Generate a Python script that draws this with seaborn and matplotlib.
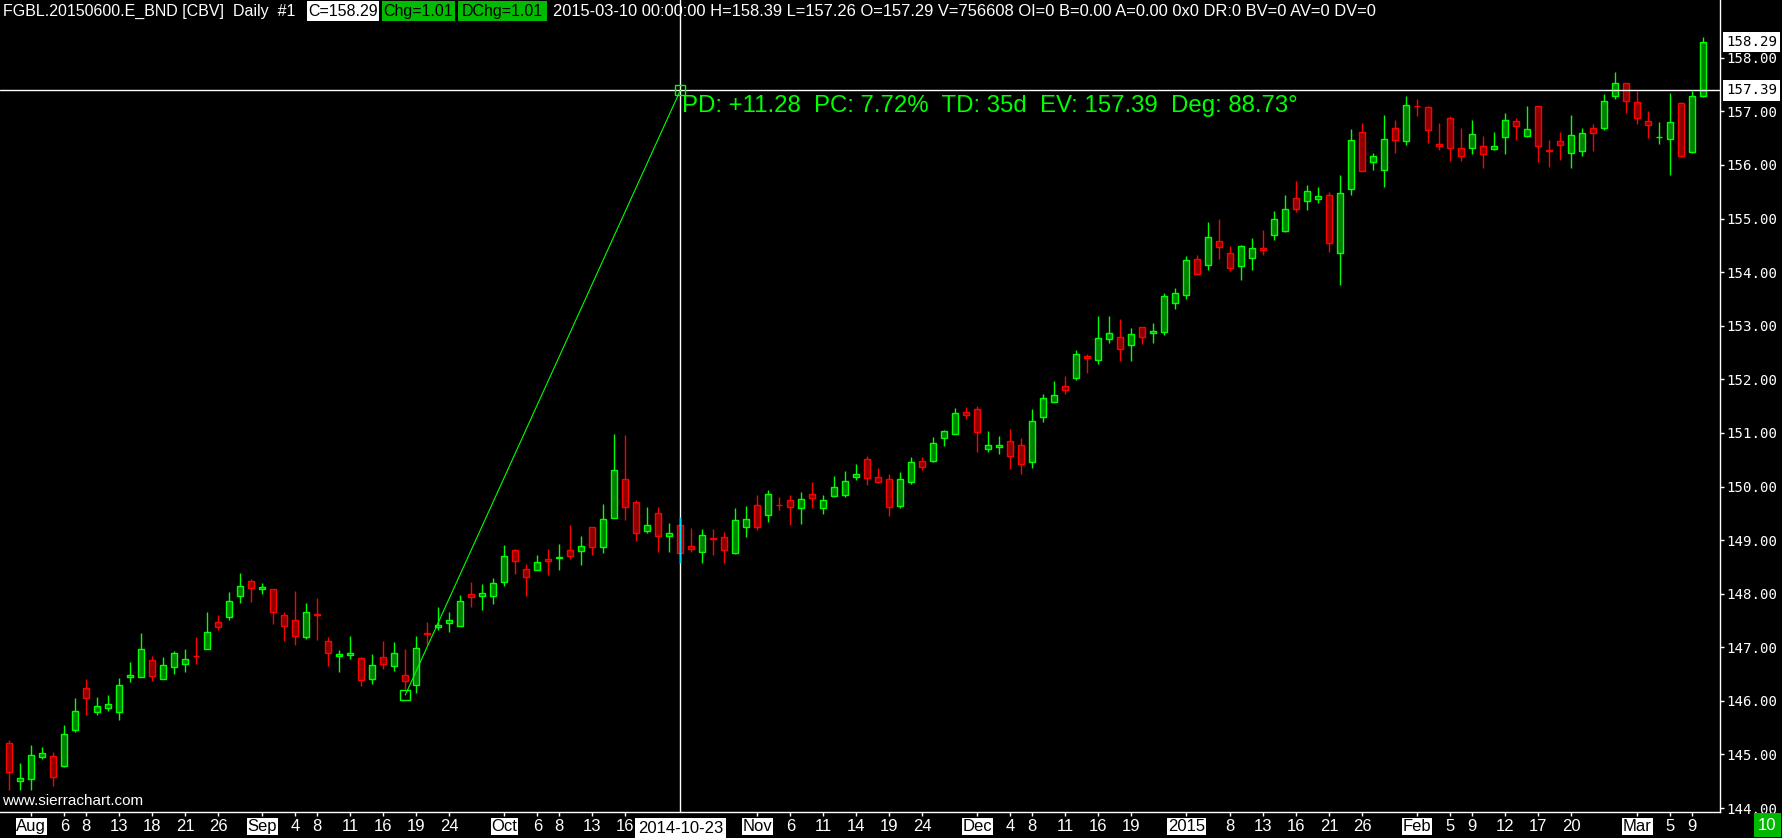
#%% Package Imports

import numpy as np
import pandas as pd
import matplotlib
matplotlib.use('Agg')
import matplotlib.pyplot as plt
import matplotlib.transforms as mtransforms
from matplotlib.patches import Rectangle
from matplotlib import font_manager
import seaborn as sns

#%% Data

holidays = ['2014-12-24', '2014-12-25', '2014-12-26', '2014-12-31', '2015-01-01']
dates = pd.bdate_range('2014-07-30', '2015-03-10')
dates = dates[~dates.isin(pd.to_datetime(holidays))]

opens = [145.21, 144.50, 144.54, 144.96, 144.97, 144.78, 145.45, 146.24, 145.79, 145.86,
         145.80, 146.44, 146.44, 146.76, 146.41, 146.63, 146.69, 146.84, 146.97, 147.47,
         147.56, 147.95, 148.23, 148.08, 148.08, 147.60, 147.51, 147.19, 147.62, 147.11,
         146.83, 146.85, 146.80, 146.41, 146.82, 146.65, 146.48, 146.29, 147.27, 147.38,
         147.45, 147.39, 147.99, 147.95, 147.95, 148.22, 148.81, 148.47, 148.44, 148.64,
         148.66, 148.81, 148.79, 149.24, 148.87, 149.41, 150.14, 149.71, 149.17, 149.50,
         149.07, 149.28, 148.89, 148.78, 149.03, 149.06, 148.76, 149.24, 149.65, 149.47,
         149.66, 149.75, 149.60, 149.86, 149.60, 149.82, 149.84, 150.17, 150.51, 150.17,
         150.14, 149.63, 150.08, 150.47, 150.47, 150.90, 150.98, 151.39, 151.44, 150.70,
         150.73, 150.85, 150.77, 150.45, 151.29, 151.57, 151.87, 152.02, 152.43, 152.36,
         152.75, 152.79, 152.64, 152.97, 152.86, 152.88, 153.42, 153.57, 154.24, 154.13,
         154.58, 154.35, 154.11, 154.26, 154.45, 154.69, 154.77, 155.38, 155.33, 155.36,
         155.44, 154.35, 155.55, 156.61, 156.05, 155.90, 156.69, 156.44, 157.10, 157.08,
         156.39, 156.87, 156.31, 156.31, 156.35, 156.29, 156.52, 156.82, 156.54, 157.10,
         156.27, 156.44, 156.22, 156.26, 156.69, 156.69, 157.28, 157.53, 157.17, 156.82,
         156.52, 156.48, 157.15, 156.24, 157.29]
highs = [145.27, 144.84, 145.17, 145.14, 145.05, 145.55, 146.05, 146.41, 146.08, 146.11,
         146.43, 146.73, 147.27, 146.83, 146.82, 146.93, 146.97, 147.19, 147.66, 147.61,
         148.04, 148.39, 148.28, 148.20, 148.08, 147.66, 148.05, 147.83, 147.92, 147.19,
         146.95, 147.21, 146.82, 146.88, 147.12, 147.10, 146.97, 147.21, 147.48, 147.75,
         147.66, 147.97, 148.22, 148.18, 148.30, 148.91, 148.83, 148.55, 148.73, 148.83,
         148.92, 149.28, 149.08, 149.24, 149.67, 150.98, 150.96, 149.75, 149.62, 149.62,
         149.32, 149.44, 149.22, 149.20, 149.20, 149.15, 149.60, 149.63, 149.84, 149.93,
         149.80, 149.84, 149.90, 150.08, 149.84, 150.19, 150.29, 150.42, 150.57, 150.34,
         150.23, 150.27, 150.55, 150.55, 150.92, 151.05, 151.46, 151.48, 151.50, 151.03,
         150.94, 151.07, 150.90, 151.44, 151.72, 151.97, 152.06, 152.54, 152.48, 153.18,
         153.18, 153.12, 152.95, 152.97, 153.05, 153.61, 153.70, 154.30, 154.32, 154.93,
         154.99, 154.48, 154.50, 154.63, 154.78, 155.14, 155.44, 155.70, 155.62, 155.59,
         155.49, 155.81, 156.67, 156.78, 156.22, 156.93, 156.84, 157.28, 157.23, 157.10,
         156.78, 156.91, 156.69, 156.84, 156.54, 156.61, 156.97, 156.87, 157.10, 157.10,
         156.46, 156.61, 156.94, 156.69, 156.76, 157.33, 157.73, 157.53, 157.38, 157.00,
         156.80, 157.34, 157.17, 157.38, 158.39]
lows = [144.33, 144.33, 144.33, 144.91, 144.42, 144.76, 145.42, 145.73, 145.73, 145.82,
        145.65, 146.36, 146.44, 146.38, 146.41, 146.51, 146.53, 146.68, 146.97, 147.33,
        147.51, 147.82, 147.84, 147.99, 147.43, 147.12, 147.05, 147.15, 147.13, 146.66,
        146.53, 146.79, 146.27, 146.31, 146.60, 146.55, 146.22, 146.14, 147.06, 147.33,
        147.28, 147.39, 147.76, 147.70, 147.80, 148.15, 148.37, 147.95, 148.44, 148.35,
        148.45, 148.64, 148.53, 148.73, 148.75, 149.41, 149.37, 148.99, 149.14, 148.77,
        148.78, 148.58, 148.77, 148.57, 148.73, 148.57, 148.74, 149.06, 149.19, 149.33,
        149.57, 149.28, 149.30, 149.60, 149.48, 149.82, 149.80, 150.12, 150.03, 150.06,
        149.45, 149.60, 150.04, 150.31, 150.45, 150.75, 150.98, 151.26, 150.65, 150.65,
        150.60, 150.32, 150.24, 150.34, 151.20, 151.57, 151.72, 151.98, 152.11, 152.28,
        152.67, 152.34, 152.34, 152.66, 152.67, 152.82, 153.31, 153.50, 153.96, 154.04,
        154.25, 154.02, 153.85, 154.04, 154.32, 154.60, 154.75, 155.12, 155.16, 155.29,
        154.37, 153.76, 155.44, 155.88, 155.90, 155.59, 156.22, 156.37, 156.91, 156.41,
        156.28, 156.07, 156.07, 156.20, 155.94, 156.28, 156.20, 156.47, 156.52, 156.05,
        155.97, 156.09, 155.95, 156.16, 156.26, 156.65, 157.23, 156.96, 156.76, 156.50,
        156.39, 155.82, 156.14, 156.22, 157.26]
closes = [144.67, 144.56, 144.99, 145.02, 144.58, 145.38, 145.81, 146.05, 145.90, 145.94,
          146.29, 146.48, 146.97, 146.47, 146.67, 146.89, 146.78, 146.83, 147.28, 147.38,
          147.86, 148.14, 148.10, 148.12, 147.66, 147.39, 147.21, 147.66, 147.61, 146.89,
          146.87, 146.89, 146.39, 146.67, 146.69, 146.89, 146.37, 146.98, 147.25, 147.42,
          147.51, 147.86, 147.94, 148.01, 148.20, 148.70, 148.61, 148.31, 148.60, 148.61,
          148.68, 148.70, 148.89, 148.87, 149.39, 150.30, 149.61, 149.13, 149.28, 149.07,
          149.13, 148.76, 148.83, 149.09, 149.02, 148.81, 149.37, 149.39, 149.24, 149.86,
          149.65, 149.62, 149.77, 149.78, 149.75, 149.99, 150.10, 150.23, 150.16, 150.08,
          149.62, 150.14, 150.45, 150.36, 150.81, 151.03, 151.37, 151.33, 151.01, 150.77,
          150.77, 150.57, 150.42, 151.22, 151.65, 151.70, 151.80, 152.47, 152.40, 152.77,
          152.86, 152.56, 152.84, 152.79, 152.90, 153.55, 153.61, 154.22, 153.96, 154.65,
          154.47, 154.07, 154.48, 154.45, 154.41, 154.99, 155.18, 155.18, 155.51, 155.42,
          154.54, 155.47, 156.46, 155.88, 156.16, 156.48, 156.46, 157.12, 157.09, 156.65,
          156.35, 156.31, 156.16, 156.57, 156.20, 156.35, 156.84, 156.72, 156.67, 156.35,
          156.26, 156.37, 156.56, 156.59, 156.59, 157.19, 157.53, 157.19, 156.87, 156.74,
          156.53, 156.80, 156.16, 157.28, 158.29]
volume_last = 756608

tick_dates = ['2014-08-01', '2014-08-06', '2014-08-08', '2014-08-13', '2014-08-18', '2014-08-21', '2014-08-26',
              '2014-09-01', '2014-09-04', '2014-09-08', '2014-09-11', '2014-09-16', '2014-09-19', '2014-09-24',
              '2014-10-01', '2014-10-06', '2014-10-08', '2014-10-13', '2014-10-16',
              '2014-11-03', '2014-11-06', '2014-11-11', '2014-11-14', '2014-11-19', '2014-11-24',
              '2014-12-01', '2014-12-04', '2014-12-08', '2014-12-11', '2014-12-16', '2014-12-19',
              '2015-01-02', '2015-01-08', '2015-01-13', '2015-01-16', '2015-01-21', '2015-01-26',
              '2015-02-02', '2015-02-05', '2015-02-09', '2015-02-12', '2015-02-17', '2015-02-20',
              '2015-03-02', '2015-03-05', '2015-03-09']
tick_labels = ['Aug', '6', '8', '13', '18', '21', '26',
               'Sep', '4', '8', '11', '16', '19', '24',
               'Oct', '6', '8', '13', '16',
               'Nov', '6', '11', '14', '19', '24',
               'Dec', '4', '8', '11', '16', '19',
               '2015', '8', '13', '16', '21', '26',
               'Feb', '5', '9', '12', '17', '20',
               'Mar', '5', '9']
boxed_labels = ['Aug', 'Sep', 'Oct', 'Nov', 'Dec', '2015', 'Feb', 'Mar']

price_ticks = list(range(144, 159))

trend_dates = ['2014-09-18', '2014-10-23']
trend_prices = [146.11, 157.39]
trend_deg = 88.73
cursor_date = '2014-10-23'
cursor_price = 157.39

#%% Style

GREEN = '#00ff00'
RED = '#ff0000'
GREEN_FILL = '#008000'
RED_FILL = '#8c0000'

sns.set_theme(style='dark', rc={'axes.facecolor': 'black', 'figure.facecolor': 'black',
                                'savefig.facecolor': 'black', 'axes.grid': False})

names = {f.name for f in font_manager.fontManager.ttflist}
narrow = 'Liberation Sans Narrow' in names
cond_font = 'Liberation Sans Narrow' if narrow else 'Liberation Sans'
cond_size = 13.5 if narrow else 11.5
date_size = 13.5 if narrow else 12
plt.rcParams['font.family'] = ['Liberation Sans', 'DejaVu Sans']

#%% Frame

df = pd.DataFrame({'open': opens, 'high': highs, 'low': lows, 'close': closes}, index=dates)
df['x'] = np.arange(len(df))
up = (df['close'] >= df['open']).values

W, H = 1783, 838
fig = plt.figure(figsize=(W / 100, H / 100), dpi=100)
ax = fig.add_axes([0, 1 - 812 / H, 1720 / W, 812 / H])
ax.set_xlim(-9.3 / 11, (1720 - 9.3) / 11)
ax.set_ylim(143.927, 159.077)

for s in ['left', 'top']:
    ax.spines[s].set_visible(False)
for s in ['right', 'bottom']:
    ax.spines[s].set_color('white')
    ax.spines[s].set_linewidth(1.0)

#%% Candles

ax.vlines(df['x'], df['low'], df['high'], colors=np.where(up, GREEN, RED), linewidth=1.0, zorder=2)
ax.bar(df['x'], df['close'] - df['open'], bottom=df['open'], width=0.58,
       color=np.where(up, GREEN_FILL, RED_FILL), edgecolor=np.where(up, GREEN, RED),
       linewidth=1.0, zorder=3)

#%% Axes ticks

ax.yaxis.tick_right()
ax.set_yticks(price_ticks)
ax.set_yticklabels(['{:.2f}'.format(p) for p in price_ticks])
ax.tick_params(axis='y', colors='white', length=3, width=1, pad=1.5, direction='out', right=True, left=False)
for lab in ax.get_yticklabels():
    lab.set_fontfamily('DejaVu Sans Mono')
    lab.set_fontsize(10.2)

tick_idx = dates.get_indexer(pd.to_datetime(tick_dates))
ax.set_xticks(tick_idx)
ax.set_xticklabels(tick_labels)
ax.tick_params(axis='x', colors='white', length=3, width=1, pad=2.0, direction='out', bottom=True)
for lab in ax.get_xticklabels():
    lab.set_fontfamily(cond_font)
    lab.set_fontsize(date_size)
    if lab.get_text() in boxed_labels:
        lab.set_color('black')
        lab.set_bbox(dict(facecolor='white', edgecolor='none', pad=0.6))

#%% Drawing tool and crosshair

trend_x = dates.get_indexer(pd.to_datetime(trend_dates))
sns.lineplot(x=trend_x, y=trend_prices, color=GREEN, linewidth=0.8, ax=ax, zorder=6)
ax.plot(trend_x, trend_prices, linestyle='none', marker='s', markersize=6.5,
        markerfacecolor='none', markeredgecolor=GREEN, markeredgewidth=1.0, zorder=6)

cx = dates.get_loc(pd.Timestamp(cursor_date))
ax.axvline(cx, color='white', linewidth=1.0, zorder=5, clip_on=False, ymax=1.0)
ax.axhline(cursor_price, color='white', linewidth=1.0, zorder=5)
ax.vlines(cx, df['low'].iloc[cx], df['high'].iloc[cx], colors='#00e0ff', linewidth=1.0, zorder=5)

pd_val = trend_prices[1] - trend_prices[0]
pc_val = pd_val / trend_prices[0] * 100
td_val = (pd.Timestamp(trend_dates[1]) - pd.Timestamp(trend_dates[0])).days
info = 'PD: {:+.2f}  PC: {:.2f}%  TD: {}d  EV: {:.2f}  Deg: {:.2f}\u00b0'.format(
    pd_val, pc_val, td_val, trend_prices[1], trend_deg)
ax.text(cx + 0.15, cursor_price, info, color=GREEN, fontsize=17.3, fontfamily='Liberation Sans',
        ha='left', va='top', zorder=7,
        transform=ax.transData + mtransforms.ScaledTranslation(0, -5 / 100, fig.dpi_scale_trans))

right_tr = mtransforms.blended_transform_factory(ax.transAxes, ax.transData)
for price in [closes[-1], cursor_price]:
    ax.text(1.0 + 6 / 1720, price, '{:.2f}'.format(price), transform=right_tr, clip_on=False,
            color='black', fontsize=10.2, fontfamily='DejaVu Sans Mono', ha='left', va='center',
            bbox=dict(facecolor='white', edgecolor='none', pad=2.2), zorder=8)

bottom_tr = mtransforms.blended_transform_factory(ax.transData, ax.transAxes)
ax.text(cx, -16 / 812, cursor_date, transform=bottom_tr, clip_on=False, color='black',
        fontsize=date_size, fontfamily=cond_font, ha='center', va='center',
        bbox=dict(facecolor='white', edgecolor='none', pad=2.0), zorder=8)

ax.text(2 / 1720, 4 / 812, 'www.sierrachart.com', transform=ax.transAxes, color='white',
        fontsize=11, fontfamily='Liberation Sans', ha='left', va='bottom', zorder=7)

#%% Header line

def fx(px):
    return px / W

def fy(py):
    return 1 - py / H

last = df.iloc[-1]
chg = closes[-1] - closes[-2]
header = [
    ('FGBL.20150600.E_BND [CBV]  Daily  #1', 3, None, 'white', cond_size),
    ('C={:.2f}'.format(last['close']), 307, (307, 379, 'white'), 'black', cond_size),
    ('Chg={:.2f}'.format(chg), 382, (382, 455, '#00bb00'), 'black', cond_size),
    ('DChg={:.2f}'.format(chg), 458, (458, 547, '#00bb00'), 'black', cond_size),
    ('{} 00:00:00 H={:.2f} L={:.2f} O={:.2f} V={} OI=0 B=0.00 A=0.00 0x0 DR:0 BV=0 AV=0 DV=0'.format(
        dates[-1].strftime('%Y-%m-%d'), last['high'], last['low'], last['open'], volume_last), 553, None,
     'white', cond_size + 0.4),
]
for text, x0, box, col, size in header:
    if box is not None:
        fig.patches.append(Rectangle((fx(box[0]), fy(21)), fx(box[1] - box[0]), 20 / H,
                                     transform=fig.transFigure, facecolor=box[2], edgecolor='none', zorder=1))
        fig.text(fx((box[0] + box[1]) / 2), fy(11.5), text, color=col, fontsize=size,
                 fontfamily=cond_font, ha='center', va='center', zorder=3)
    else:
        fig.text(fx(x0), fy(11.5), text, color=col, fontsize=size,
                 fontfamily=cond_font, ha='left', va='center', zorder=3)

fig.patches.append(Rectangle((fx(1754), fy(837)), fx(27), 24 / H, transform=fig.transFigure,
                             facecolor='#00b800', edgecolor='none', zorder=1))
fig.text(fx(1767.5), fy(825), dates[-1].strftime('%d').lstrip('0'), color='white', fontsize=date_size,
         fontfamily=cond_font, ha='center', va='center', zorder=3)

fig.savefig('out.png', dpi=100, facecolor='black')
